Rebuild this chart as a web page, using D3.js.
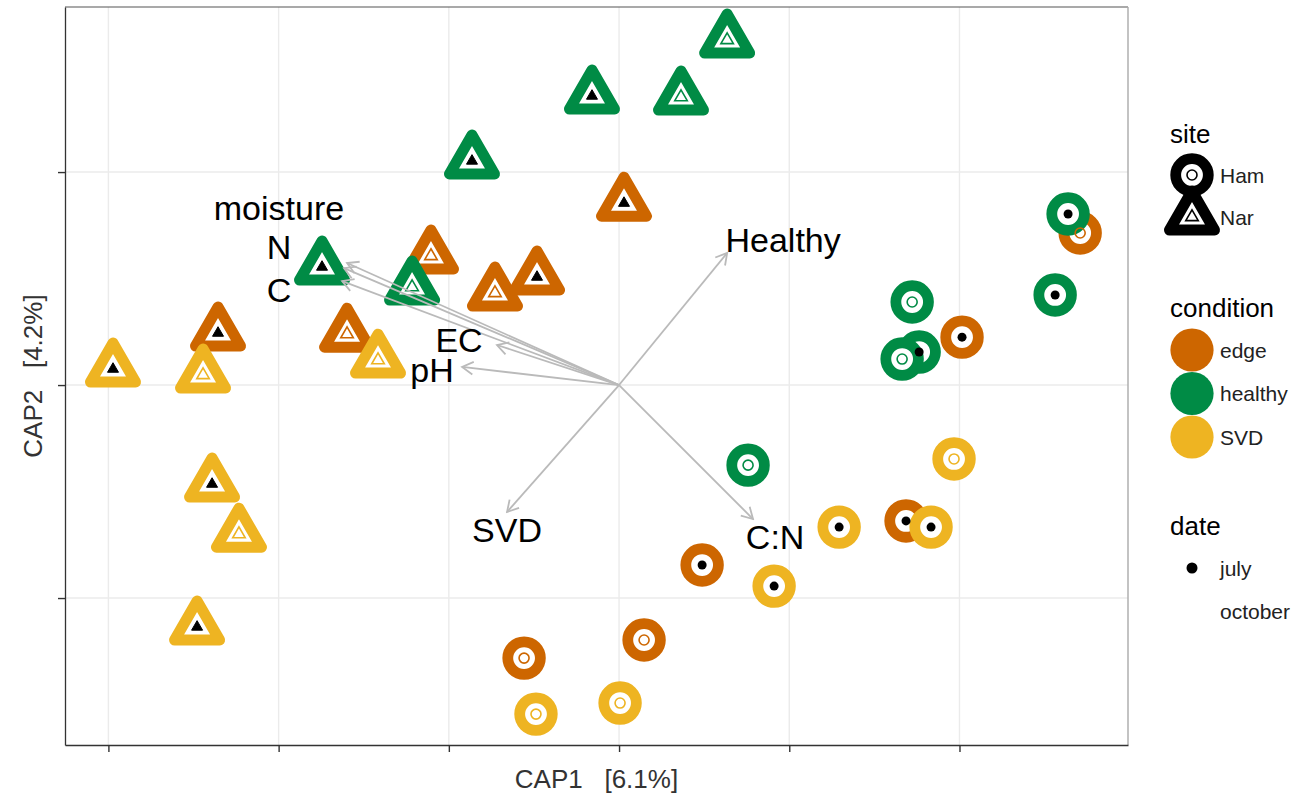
<!DOCTYPE html>
<html>
<head>
<meta charset="utf-8">
<script src="https://cdn.jsdelivr.net/npm/d3@7"></script>
<style>
  body { margin: 0; background: #fff; }
  text { font-family: "Liberation Sans", Arial, sans-serif; }
</style>
</head>
<body>
<svg id="chart" width="1298" height="797"></svg>
<script>
// ---- sample scores (CAP1 / CAP2), in drawing order ----
var site      = ["Nar","Nar","Nar","Nar","Nar","Nar","Nar","Nar","Nar","Nar","Nar","Nar","Nar","Nar","Nar","Nar","Nar","Nar",
                 "Ham","Ham","Ham","Ham","Ham","Ham","Ham","Ham","Ham","Ham","Ham","Ham","Ham","Ham","Ham","Ham","Ham","Ham"];
var condition = ["healthy","healthy","healthy","healthy","healthy","edge","edge","healthy","edge","edge","edge","edge","SVD","SVD","SVD","SVD","SVD","SVD",
                 "edge","healthy","healthy","healthy","healthy","healthy","healthy","edge","edge","edge","edge","edge","SVD","SVD","SVD","SVD","SVD","SVD"];
var date      = ["october","july","october","july","july","july","october","october","october","july","july","october","july","october","october","july","october","july",
                 "october","july","july","october","july","october","october","july","july","october","october","july","october","july","july","july","october","october"];
var cap1      = [0.635,-0.159,0.364,-0.864,-1.745,0.029,-1.105,-1.216,-0.729,-0.482,-2.356,-1.598,-2.973,-2.444,-1.416,-2.391,-2.233,-2.479,
                 2.709,2.638,2.562,1.722,1.763,1.663,0.758,2.015,0.488,0.147,-0.558,1.686,1.968,1.293,1.833,0.911,0.006,-0.488];
var cap2      = [1.620,1.357,1.352,1.052,0.554,0.854,0.606,0.460,0.432,0.507,0.244,0.239,0.075,0.047,0.117,-0.465,-0.700,-1.136,
                 0.714,0.803,0.423,0.390,0.155,0.122,-0.376,0.225,-0.845,-1.197,-1.282,-0.638,-0.347,-0.667,-0.667,-0.944,-1.493,-1.545];

// ---- fitted vectors ----
var vecNames = ["moisture","N","C","EC","pH","Healthy","SVD","C:N"];
var vecX     = [-1.598,-1.616,-1.627,-0.717,-0.922,0.635,-0.658,0.787];
var vecY     = [0.573,0.549,0.488,0.188,0.085,0.620,-0.596,-0.629];
var labX     = [-1.998,-1.998,-1.998,-0.940,-1.099,0.964,-0.658,0.917];
var labY     = [0.831,0.648,0.446,0.211,0.070,0.681,-0.681,-0.714];

var xTicks = [-3,-2,-1,0,1,2];
var yTicks = [-1,0,1];

var condLevels = ["edge","healthy","SVD"];
var condColors = ["#CD6600","#008B45","#EEB422"];
var siteLevels = ["Ham","Nar"];
var dateLevels = ["july","october"];

var samples = cap1.map(function(d, i) {
  return {site: site[i], condition: condition[i], date: date[i], x: cap1[i], y: cap2[i]};
});

var svg = d3.select("#chart");
var margin = {left: 65, right: 170, top: 7, bottom: 52};
var W = 1298, H = 797;

var x = d3.scaleLinear().domain([-3.255, 2.99]).range([margin.left, W - margin.right]);
var y = d3.scaleLinear().domain([-1.69, 1.775]).range([H - margin.bottom, margin.top]);
var color = d3.scaleOrdinal().domain(condLevels).range(condColors);

// triangle with centroid at 0,0
function tri(L) {
  var a = L / Math.sqrt(3), b = L / (2 * Math.sqrt(3));
  return "M0," + (-a) + "L" + (L / 2) + "," + b + "L" + (-L / 2) + "," + b + "Z";
}

// grid
svg.append("g").selectAll("line.gx").data(xTicks).enter().append("line")
  .attr("x1", function(d) { return x(d); }).attr("x2", function(d) { return x(d); })
  .attr("y1", y.range()[0]).attr("y2", y.range()[1])
  .attr("stroke", "#ebebeb").attr("stroke-width", 1.4);
svg.append("g").selectAll("line.gy").data(yTicks).enter().append("line")
  .attr("y1", function(d) { return y(d); }).attr("y2", function(d) { return y(d); })
  .attr("x1", x.range()[0]).attr("x2", x.range()[1])
  .attr("stroke", "#ebebeb").attr("stroke-width", 1.4);

// panel border (top/right)
svg.append("line").attr("x1", x.range()[0]).attr("x2", x.range()[1]).attr("y1", y.range()[1]).attr("y2", y.range()[1])
  .attr("stroke", "#555").attr("stroke-width", 1.2);
svg.append("line").attr("x1", x.range()[1]).attr("x2", x.range()[1]).attr("y1", y.range()[1]).attr("y2", y.range()[0])
  .attr("stroke", "#aaa").attr("stroke-width", 1.4);

// axes, no labels
var gx = svg.append("g").attr("transform", "translate(0," + y.range()[0] + ")")
  .call(d3.axisBottom(x).tickValues(xTicks).tickFormat("").tickSize(7).tickSizeOuter(0));
var gy = svg.append("g").attr("transform", "translate(" + x.range()[0] + ",0)")
  .call(d3.axisLeft(y).tickValues(yTicks).tickFormat("").tickSize(7).tickSizeOuter(0));
[gx, gy].forEach(function(g) {
  g.select(".domain").attr("stroke", "#333").attr("stroke-width", 1.3);
  g.selectAll(".tick line").attr("stroke", "#333").attr("stroke-width", 1.4);
});

// outer markers (thick ring, white fill)
var pts = svg.append("g");
samples.forEach(function(d) {
  var g = pts.append("g").attr("transform", "translate(" + x(d.x) + "," + y(d.y) + ")");
  if (d.site === "Ham") {
    g.append("circle").attr("r", 16.3).attr("fill", "#fff")
      .attr("stroke", color(d.condition)).attr("stroke-width", 10.8);
  } else {
    g.append("path").attr("d", tri(45)).attr("fill", "#fff")
      .attr("stroke", color(d.condition)).attr("stroke-width", 11).attr("stroke-linejoin", "round");
  }
});

// inner markers (date)
var inner = svg.append("g");
samples.forEach(function(d) {
  var g = inner.append("g").attr("transform", "translate(" + x(d.x) + "," + y(d.y) + ")");
  var jul = d.date === "july";
  if (d.site === "Ham") {
    if (jul) g.append("circle").attr("r", 4.5).attr("fill", "#000");
    else g.append("circle").attr("r", 5).attr("fill", "none").attr("stroke", color(d.condition)).attr("stroke-width", 1.6);
  } else {
    if (jul) g.append("path").attr("d", tri(11)).attr("fill", "#000").attr("stroke", "#000").attr("stroke-width", 1).attr("stroke-linejoin", "round");
    else g.append("path").attr("d", tri(12.5)).attr("fill", "none").attr("stroke", color(d.condition)).attr("stroke-width", 1.6);
  }
});

// vectors
var defs = svg.append("defs");
defs.append("marker").attr("id", "ah")
  .attr("viewBox", "-13 -8 15 16").attr("refX", 0).attr("refY", 0)
  .attr("markerWidth", 15).attr("markerHeight", 16)
  .attr("markerUnits", "userSpaceOnUse").attr("orient", "auto")
  .append("path").attr("d", "M-11,-6.3L0,0L-11,6.3")
  .attr("fill", "none").attr("stroke", "#bababa").attr("stroke-width", 1.8);

svg.append("g").selectAll("line").data(vecNames).enter().append("line")
  .attr("x1", x(0)).attr("y1", y(0))
  .attr("x2", function(d, i) { return x(vecX[i]); })
  .attr("y2", function(d, i) { return y(vecY[i]); })
  .attr("stroke", "#bababa").attr("stroke-width", 1.8)
  .attr("marker-end", "url(#ah)");

svg.append("g").selectAll("text").data(vecNames).enter().append("text")
  .attr("x", function(d, i) { return x(labX[i]); })
  .attr("y", function(d, i) { return y(labY[i]); })
  .attr("dy", "0.36em")
  .attr("text-anchor", "middle")
  .attr("font-size", 34).attr("fill", "#000")
  .text(function(d) { return d; });

// axis titles
svg.append("text").attr("x", (x.range()[0] + x.range()[1]) / 2).attr("y", 788)
  .attr("text-anchor", "middle").attr("font-size", 26).attr("fill", "#333")
  .style("white-space", "pre").text("CAP1   [6.1%]");
svg.append("text").attr("transform", "translate(42," + (y.range()[0] + y.range()[1]) / 2 + ") rotate(-90)")
  .attr("text-anchor", "middle").attr("font-size", 26).attr("fill", "#333")
  .style("white-space", "pre").text("CAP2   [4.2%]");

// ---- legends ----
var lg = svg.append("g");
var kx = 1192, tx = 1220;

lg.append("text").attr("x", 1170).attr("y", 143).attr("font-size", 26).text("site");
siteLevels.forEach(function(s, i) {
  var cy = i === 0 ? 175 : 217;
  var g = lg.append("g").attr("transform", "translate(" + kx + "," + cy + ")");
  if (s === "Ham") {
    g.append("circle").attr("r", 16.3).attr("fill", "#fff").attr("stroke", "#000").attr("stroke-width", 10.8);
    g.append("circle").attr("r", 5).attr("fill", "none").attr("stroke", "#000").attr("stroke-width", 1.6);
  } else {
    g.append("path").attr("d", tri(45)).attr("fill", "#fff").attr("stroke", "#000").attr("stroke-width", 11).attr("stroke-linejoin", "round");
    g.append("path").attr("d", tri(12.5)).attr("fill", "none").attr("stroke", "#000").attr("stroke-width", 1.6);
  }
  lg.append("text").attr("x", tx).attr("y", cy).attr("dy", "0.36em").attr("font-size", 21).attr("fill", "#222").text(s);
});

lg.append("text").attr("x", 1170).attr("y", 317).attr("font-size", 26).text("condition");
condLevels.forEach(function(c, i) {
  var cy = 350 + i * 43.5;
  lg.append("circle").attr("cx", kx).attr("cy", cy).attr("r", 21.6).attr("fill", color(c));
  lg.append("text").attr("x", tx).attr("y", cy).attr("dy", "0.36em").attr("font-size", 21).attr("fill", "#222").text(c);
});

lg.append("text").attr("x", 1170).attr("y", 535).attr("font-size", 26).text("date");
dateLevels.forEach(function(dd, i) {
  var cy = 568 + i * 43.5;
  if (dd === "july") lg.append("circle").attr("cx", kx).attr("cy", cy).attr("r", 5.5).attr("fill", "#000");
  lg.append("text").attr("x", tx).attr("y", cy).attr("dy", "0.36em").attr("font-size", 21).attr("fill", "#222").text(dd);
});
</script>
</body>
</html>
